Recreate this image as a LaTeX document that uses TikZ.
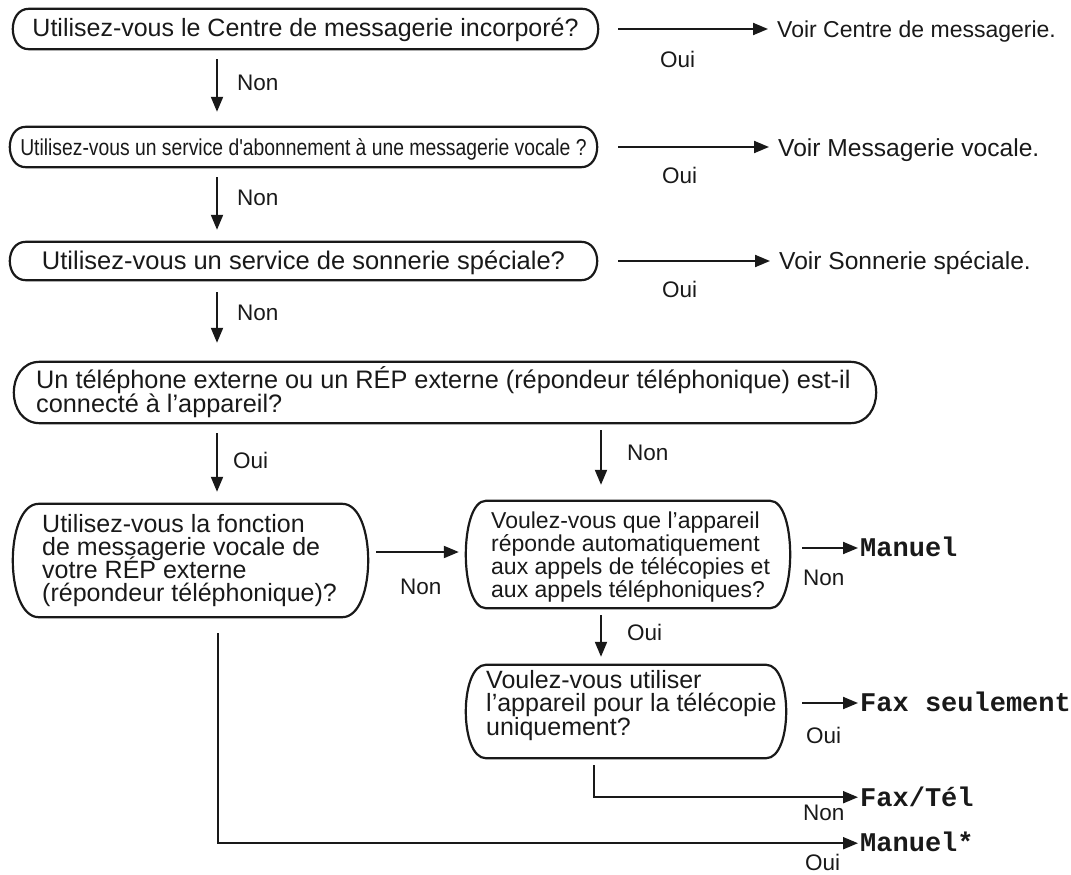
\documentclass[tikz,border=0pt]{standalone}
\usepackage{fontspec}
\setmainfont{Liberation Sans}
\setmonofont{Liberation Mono}
\newfontfamily\condfont[FakeStretch=0.84]{Liberation Sans}
\usetikzlibrary{arrows.meta,calc}
\newcommand\Lbox[2]{\vtop{\baselineskip=#1\lineskiplimit=-100pt\lineskip=0pt\halign{##\hfil\cr#2\crcr}}}
\newcommand\capsule[2]{\draw[boxline] ([xshift=#2pt]#1.north west) -- ([xshift=-#2pt]#1.north east) .. controls ([xshift=#2pt/3]#1.north east) and ([xshift=#2pt/3]#1.south east) .. ([xshift=-#2pt]#1.south east) -- ([xshift=#2pt]#1.south west) .. controls ([xshift=-#2pt/3]#1.south west) and ([xshift=-#2pt/3]#1.north west) .. cycle;}
\tikzset{
  boxshape/.style={rectangle,draw=none,inner sep=0pt},
  boxline/.style={line width=2.2pt,black!90,line join=round},
  arr/.style={line width=2pt,black!90,-{Triangle[length=15pt,width=12pt]}},
  txt/.style={inner sep=0pt,anchor=base west,text=black!90,font=\fontsize{25}{23}\selectfont},
  lab/.style={inner sep=0pt,anchor=base west,text=black!90,font=\fontsize{22.5}{22}\selectfont},
  res/.style={inner sep=0pt,anchor=base west,text=black!90,font=\fontsize{27}{27}\selectfont\ttfamily\bfseries},
}
\begin{document}
\begin{tikzpicture}[x=1pt,y=-1pt]
\useasboundingbox (0,0) rectangle (1071,875);
% boxes
\node[boxshape,minimum width=585pt,minimum height=40pt] (b1) at (305.5,29) {};
\node[boxshape,minimum width=587pt,minimum height=40pt] (b2) at (303.5,147) {};
\node[boxshape,minimum width=587pt,minimum height=38pt] (b3) at (303.5,261) {};
\node[boxshape,minimum width=862pt,minimum height=61pt] (b4) at (445,392.5) {};
\node[boxshape,minimum width=355pt,minimum height=113pt] (b5) at (190.5,560.5) {};
\node[boxshape,minimum width=324pt,minimum height=107pt] (b6) at (628,554.5) {};
\node[boxshape,minimum width=320pt,minimum height=93pt] (b7) at (626,711.5) {};
\capsule{b1}{16}
\capsule{b2}{16}
\capsule{b3}{16}
\capsule{b4}{26}
\capsule{b5}{26}
\capsule{b6}{20}
\capsule{b7}{20}
% box texts
\node[txt,anchor=base] (t1) at (305.5,37) {Utilisez-vous le Centre de messagerie incorporé?};
\node[txt,anchor=base,font=\fontsize{23}{23}\condfont] (t2) at (303.5,155) {Utilisez-vous un service d'abonnement à une messagerie vocale ?};
\node[txt,anchor=base,font=\fontsize{25.5}{23}\selectfont] (t3) at (303.5,269) {Utilisez-vous un service de sonnerie spéciale?};
\node[txt,font=\fontsize{25.3}{23}\selectfont] (t4) at (36,388) {\Lbox{24.5pt}{Un téléphone externe ou un RÉP externe (répondeur téléphonique) est-il\cr connecté à l'appareil?}};
\node[txt] (t5) at (42,532) {\Lbox{23.3pt}{Utilisez-vous la fonction\cr de messagerie vocale de\cr votre RÉP externe\cr (répondeur téléphonique)?}};
\node[txt,font=\fontsize{23}{23}\selectfont] (t6) at (491,528) {\Lbox{23pt}{Voulez-vous que l'appareil\cr réponde automatiquement\cr aux appels de télécopies et\cr aux appels téléphoniques?}};
\node[txt] (t7) at (486,688) {\Lbox{23.5pt}{Voulez-vous utiliser\cr l'appareil pour la télécopie\cr uniquement?}};
% results
\node[txt,font=\fontsize{23}{23}\selectfont] (v1) at (777,38) {Voir Centre de messagerie.};
\node[txt,font=\fontsize{24.6}{23}\selectfont] (v2) at (778,156) {Voir Messagerie vocale.};
\node[txt,font=\fontsize{24.6}{23}\selectfont] (v3) at (779,269) {Voir Sonnerie spéciale.};
\node[res] (m1) at (860,556) {Manuel};
\node[res] (fs) at (860,711) {Fax seulement};
\node[res] (ft) at (860,806) {Fax/Tél};
\node[res] (m2) at (860,851) {Manuel*};
% labels
\node[lab] (l1) at (660,67) {Oui};
\node[lab] (l2) at (237,91) {Non};
\node[lab] (l3) at (662,183) {Oui};
\node[lab] (l4) at (237,205) {Non};
\node[lab] (l5) at (662,297) {Oui};
\node[lab] (l6) at (237,320) {Non};
\node[lab] (l7) at (233,468) {Oui};
\node[lab] (l8) at (627,460) {Non};
\node[lab] (l9) at (400,594) {Non};
\node[lab] (l10) at (803,585) {Non};
\node[lab] (l11) at (627,640) {Oui};
\node[lab] (l12) at (806,743) {Oui};
\node[lab] (l13) at (803,820) {Non};
\node[lab] (l14) at (805,870) {Oui};
% columns
\coordinate (cL) at (217,0);
\coordinate (cR) at (601,0);
\coordinate (cF) at (594,0);
\coordinate (cB) at (218,0);
% horizontal arrows
\draw[arr] ($(b1.east)+(20,0)$) -- ($(b1.east -| v1.west)+(-9,0)$);
\draw[arr] ($(b2.east)+(21,0)$) -- ($(b2.east -| v2.west)+(-9,0)$);
\draw[arr] ($(b3.east)+(21,0)$) -- ($(b3.east -| v3.west)+(-9,0)$);
\draw[arr] ($(b5.east)+(8,-8.5)$) coordinate (s5) -- ($(s5 -| b6.west)+(-7,0)$);
\draw[arr] ($(b6.east)+(12,-6.5)$) coordinate (s6) -- ($(s6 -| m1.west)+(-2,0)$);
\draw[arr] ($(b7.east)+(16,-8.5)$) coordinate (s7) -- ($(s7 -| fs.west)+(-2,0)$);
% vertical arrows
\draw[arr] ($(cL |- b1.south)+(0,10)$) -- ($(cL |- b2.north)+(0,-15)$);
\draw[arr] ($(cL |- b2.south)+(0,10)$) -- ($(cL |- b3.north)+(0,-12)$);
\draw[arr] ($(cL |- b3.south)+(0,12)$) -- ($(cL |- b4.north)+(0,-19)$);
\draw[arr] ($(cL |- b4.south)+(0,10)$) -- ($(cL |- b5.north)+(0,-12)$);
\draw[arr] ($(cR |- b4.south)+(0,7)$) -- ($(cR |- b6.north)+(0,-16)$);
\draw[arr] ($(cR |- b6.south)+(0,7)$) -- ($(cR |- b7.north)+(0,-8)$);
% elbow arrows
\draw[arr] ($(cF |- b7.south)+(0,7)$) -- ++(0,32) coordinate (k1) -- ($(k1 -| ft.west)+(-2,0)$);
\draw[arr] ($(cB |- b5.south)+(0,16)$) -- ++(0,210) coordinate (k2) -- ($(k2 -| m2.west)+(-2,0)$);
\end{tikzpicture}
\end{document}
